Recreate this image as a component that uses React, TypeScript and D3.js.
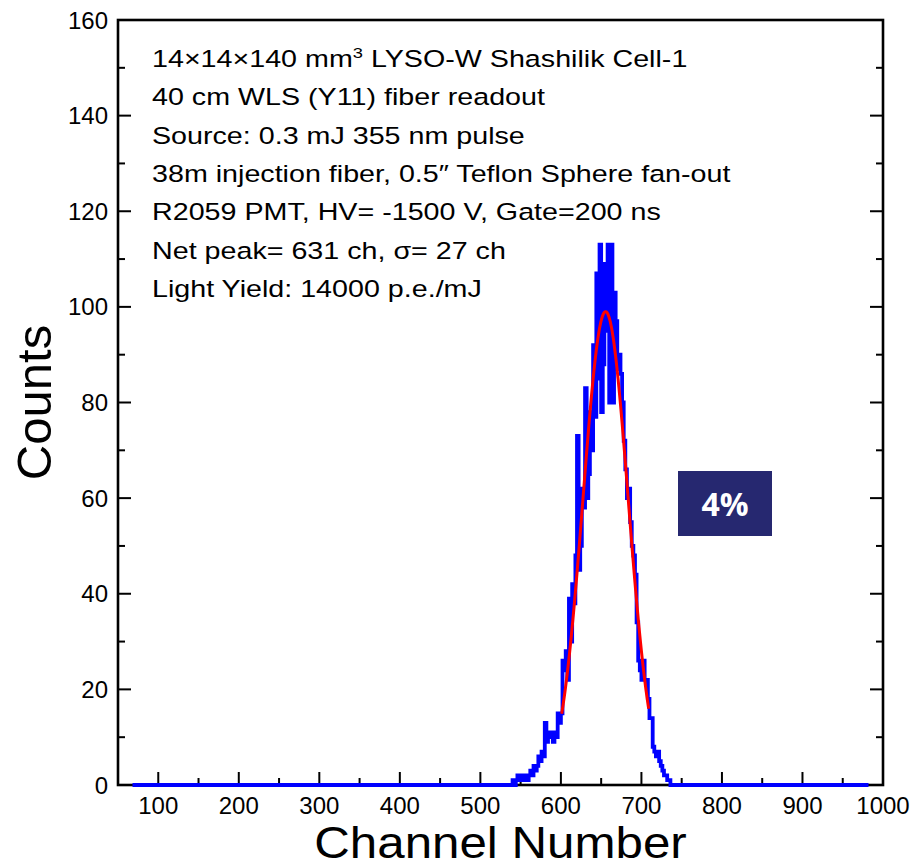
import React from "react";
import * as d3 from "d3";

const X_TICKS = [100, 200, 300, 400, 500, 600, 700, 800, 900, 1000];
const X_MINOR = [50, 150, 250, 350, 450, 550, 650, 750, 850, 950];
const Y_TICKS = [0, 20, 40, 60, 80, 100, 120, 140, 160];
const Y_MINOR = [10, 30, 50, 70, 90, 110, 130, 150];

// histogram range (channels) and bins of 2 channels starting at BIN_START
const HIST_RANGE = [68, 982];
const BIN_START = 540;
const BIN_WIDTH = 2;
const BIN_COUNTS = [
  1, 0, 1, 2, 1, 1, 2, 1, 2, 1,
  2, 3, 2, 4, 3, 4, 6, 5, 7, 6,
  13, 9, 10, 11, 10, 9, 11, 10, 15, 13,
  15, 26, 24, 28, 22, 39, 30, 42, 38, 48,
  73, 45, 50, 62, 58, 83, 60, 65, 78, 70,
  92, 77, 107, 85, 113, 78, 88, 109, 95, 113,
  80, 113, 80, 103, 97, 87, 90, 86, 80, 72,
  66, 60, 62, 55, 50, 48, 44, 34, 26, 24,
  22, 26, 22, 22, 18, 14, 14, 8, 7, 6,
  7, 5, 4, 3, 2, 2, 1, 1, 0, 0,
];

// Gaussian fit: amplitude, mean, sigma; drawn range
const FIT_PARAMS = [99, 655.5, 28];
const FIT_RANGE = [601, 709];

const INFO_LINES = [
  "40 cm WLS (Y11) fiber readout",
  "Source: 0.3 mJ 355 nm pulse",
  "38m injection fiber, 0.5\u2033 Teflon Sphere fan-out",
  "R2059 PMT, HV= -1500 V, Gate=200 ns",
  "Net peak= 631 ch, \u03c3= 27 ch",
  "Light Yield: 14000 p.e./mJ",
];

const W = 915;
const H = 866;
const L = 118, R = 883, T = 20, B = 785;

export default function App() {
  const x = d3.scaleLinear().domain([50, 1000]).range([L, R]);
  const y = d3.scaleLinear().domain([0, 160]).range([B, T]);

  const pts: [number, number][] = [[HIST_RANGE[0], 0]];
  BIN_COUNTS.forEach((c, i) => pts.push([BIN_START + i * BIN_WIDTH, c]));
  pts.push([BIN_START + BIN_COUNTS.length * BIN_WIDTH, 0]);
  pts.push([HIST_RANGE[1], 0]);
  const histPath = d3
    .line<[number, number]>()
    .x((d) => x(d[0]))
    .y((d) => y(d[1]))
    .curve(d3.curveStepAfter)(pts) as string;

  const [A, mu, sg] = FIT_PARAMS;
  const fitPts = d3.range(FIT_RANGE[0], FIT_RANGE[1] + 0.5, 1).map(
    (c) => [c, A * Math.exp(-0.5 * ((c - mu) / sg) ** 2)] as [number, number]
  );
  const fitPath = d3
    .line<[number, number]>()
    .x((d) => x(d[0]))
    .y((d) => y(d[1]))
    .curve(d3.curveMonotoneX)(fitPts) as string;

  const font = "'Liberation Sans', Arial, sans-serif";
  const major = 13, minor = 7;
  const sx = 1.22;

  return (
    <svg
      width={W}
      height={H}
      style={{ position: "absolute", left: 0, top: 0, background: "#fff" }}
      fontFamily={font}
    >
      <rect x={0} y={0} width={W} height={H} fill="#fff" />
      {/* frame */}
      <rect x={L} y={T} width={R - L} height={B - T} fill="none" stroke="#000" strokeWidth={2.6} />
      {/* bottom ticks */}
      {X_TICKS.map((t) => (
        <line key={"xt" + t} x1={x(t)} x2={x(t)} y1={B} y2={B - major} stroke="#000" strokeWidth={2} />
      ))}
      {X_MINOR.map((t) => (
        <line key={"xm" + t} x1={x(t)} x2={x(t)} y1={B} y2={B - minor} stroke="#000" strokeWidth={2} />
      ))}
      {/* left & right ticks */}
      {Y_TICKS.map((t) => (
        <g key={"yt" + t}>
          <line x1={L} x2={L + major} y1={y(t)} y2={y(t)} stroke="#000" strokeWidth={2} />
          <line x1={R} x2={R - major} y1={y(t)} y2={y(t)} stroke="#000" strokeWidth={2} />
        </g>
      ))}
      {Y_MINOR.map((t) => (
        <g key={"ym" + t}>
          <line x1={L} x2={L + minor} y1={y(t)} y2={y(t)} stroke="#000" strokeWidth={2} />
          <line x1={R} x2={R - minor} y1={y(t)} y2={y(t)} stroke="#000" strokeWidth={2} />
        </g>
      ))}
      {/* tick labels */}
      {X_TICKS.map((t) => (
        <text key={"xl" + t} x={x(t)} y={814} textAnchor="middle" fontSize={24} fill="#000">
          {t}
        </text>
      ))}
      {Y_TICKS.map((t) => (
        <text key={"yl" + t} x={108} y={y(t) + 8.5} textAnchor="end" fontSize={24} fill="#000">
          {t}
        </text>
      ))}
      {/* axis titles */}
      <g transform={`translate(${(L + R) / 2}, 858) scale(1.12, 1)`}>
        <text x={0} y={0} textAnchor="middle" fontSize={44} fill="#000">
          Channel Number
        </text>
      </g>
      <text
        transform={`translate(51, ${(T + B) / 2}) rotate(-90)`}
        textAnchor="middle"
        fontSize={49}
        fill="#000"
      >
        Counts
      </text>
      {/* histogram */}
      <path d={histPath} fill="none" stroke="#0000ff" strokeWidth={3.8} />
      {/* fit */}
      <path d={fitPath} fill="none" stroke="#ff0000" strokeWidth={3} />
      {/* info text */}
      <g transform={`translate(152, 0) scale(${sx}, 1)`}>
        <text x={0} y={67} fontSize={23.5} fill="#000">
          14×14×140 mm<tspan dy={-9} fontSize={15}>3</tspan>
          <tspan dy={9}> LYSO-W Shashilik Cell-1</tspan>
        </text>
        {INFO_LINES.map((s, i) => (
          <text key={"il" + i} x={0} y={105.5 + i * 38.3} fontSize={23.5} fill="#000">
            {s}
          </text>
        ))}
      </g>
      {/* 4% box */}
      <rect x={678} y={471} width={94} height={65} fill="#262870" />
      <text x={725} y={516} textAnchor="middle" fontSize={32} fontWeight="bold" fill="#fff" fontFamily="'Open Sans', 'Liberation Sans', sans-serif">
        4%
      </text>
    </svg>
  );
}
